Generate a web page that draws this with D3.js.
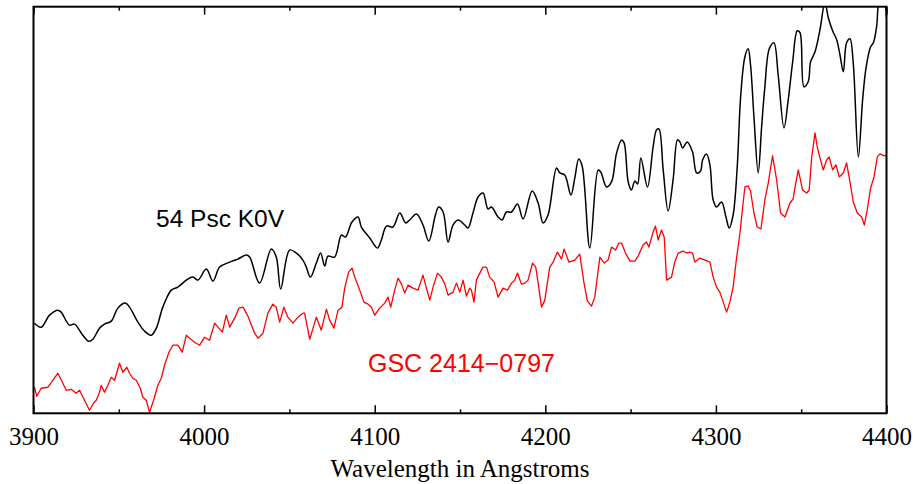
<!DOCTYPE html>
<html>
<head>
<meta charset="utf-8">
<script src="https://cdn.jsdelivr.net/npm/d3@7"></script>
<style>
  body { margin: 0; background: #fff; }
  svg { display: block; }
</style>
</head>
<body>
<div id="chart"></div>
<script>
'use strict';

// wavelength (Angstrom) and relative flux
let kWave = [3900.6, 3904.5, 3909.4, 3914.3, 3916.2, 3921.1, 3924.0, 3928.9, 3932.4, 3934.8,
  3938.7, 3941.6, 3945.6, 3949.4, 3954.0, 3956.3, 3961.2, 3965.1, 3969.0, 3972.0,
  3975.8, 3980.8, 3984.6, 3989.6, 3993.4, 3996.4, 4001.3, 4005.2, 4009.1, 4015.0,
  4019.8, 4024.7, 4026.7, 4032.5, 4039.4, 4042.3, 4044.9, 4050.1, 4054.1, 4057.9,
  4059.9, 4062.3, 4065.8, 4068.3, 4070.7, 4072.6, 4076.5, 4080.5, 4082.8, 4086.7,
  4090.2, 4092.2, 4097.1, 4101.6, 4103.9, 4106.9, 4110.7, 4114.7, 4118.2, 4120.5,
  4124.5, 4128.3, 4131.7, 4135.6, 4137.5, 4140.1, 4143.0, 4145.9, 4148.9, 4152.8,
  4154.7, 4157.6, 4160.6, 4163.5, 4166.4, 4168.4, 4172.3, 4174.7, 4177.2, 4180.2,
  4183.7, 4187.0, 4192.3, 4195.8, 4198.7, 4201.6, 4206.6, 4208.5, 4211.4, 4215.0,
  4217.3, 4219.6, 4221.6, 4226.1, 4231.0, 4232.5, 4235.9, 4238.8, 4241.8, 4244.7,
  4246.2, 4248.6, 4250.5, 4252.5, 4254.1, 4256.0, 4259.9, 4263.2, 4265.2, 4266.6,
  4269.1, 4272.0, 4274.9, 4277.5, 4278.9, 4280.5, 4283.2, 4286.3, 4288.7, 4291.0,
  4292.2, 4294.5, 4296.5, 4298.4, 4300.4, 4303.3, 4305.9, 4307.8, 4310.1, 4312.5,
  4314.5, 4317.0, 4318.9, 4320.3, 4322.3, 4324.8, 4326.8, 4328.7, 4331.3, 4334.0,
  4336.5, 4339.9, 4342.4, 4345.0, 4347.7, 4349.3, 4351.6, 4354.1, 4355.5, 4358.1,
  4361.0, 4363.9, 4365.9, 4368.4, 4370.8, 4372.7, 4374.7, 4376.6, 4378.6, 4380.5,
  4383.5, 4386.0, 4388.0, 4390.7, 4392.3, 4394.2, 4395.8, 4398.1, 4400.0];
let kFlux = [90, 86, 98, 103, 101, 88, 89, 78, 72, 74,
  85, 89, 92, 105, 110, 106, 91, 82, 78, 85,
  106, 123, 126, 133, 136, 133, 144, 132, 146, 151,
  154, 158, 156, 130, 164, 156, 124, 163, 160, 153,
  146, 136, 150, 160, 147, 157, 156, 178, 176, 191,
  196, 186, 175, 165, 173, 187, 186, 200, 190, 193,
  199, 188, 172, 198, 206, 201, 171, 188, 193, 188,
  185, 200, 216, 220, 204, 206, 196, 193, 201, 201,
  209, 194, 222, 210, 190, 198, 245, 240, 238, 218,
  235, 254, 247, 165, 243, 241, 226, 231, 260, 273,
  270, 231, 223, 232, 229, 255, 226, 266, 283, 284,
  243, 202, 233, 273, 271, 265, 271, 261, 240, 242,
  253, 259, 248, 213, 206, 211, 196, 185, 198, 246,
  316, 356, 364, 348, 296, 240, 286, 326, 364, 370,
  338, 285, 313, 351, 382, 380, 326, 331, 351, 361,
  383, 410, 395, 382, 373, 358, 341, 370, 374, 350,
  256, 313, 345, 366, 370, 386, 412, 416, 395];

let gWave = [3900.6, 3901.9, 3904.5, 3908.4, 3911.3, 3914.3, 3917.2, 3919.2, 3922.1, 3925.0,
  3927.0, 3929.9, 3932.8, 3935.2, 3936.8, 3938.7, 3939.7, 3941.6, 3943.6, 3945.6,
  3947.5, 3948.9, 3950.4, 3952.4, 3954.7, 3956.3, 3958.2, 3960.2, 3962.6, 3964.1,
  3966.1, 3968.0, 3970.4, 3972.9, 3974.9, 3976.8, 3979.4, 3981.7, 3984.6, 3987.2,
  3989.6, 3991.5, 3994.4, 3997.4, 4000.3, 4003.2, 4006.2, 4008.1, 4010.7, 4013.0,
  4015.0, 4017.9, 4020.4, 4022.8, 4025.7, 4029.6, 4031.6, 4034.5, 4037.4, 4040.3,
  4042.3, 4044.3, 4046.8, 4049.1, 4052.1, 4055.0, 4057.9, 4058.9, 4061.9, 4065.8,
  4068.7, 4071.7, 4073.6, 4076.1, 4078.5, 4080.8, 4082.4, 4084.7, 4086.7, 4088.3,
  4091.2, 4093.7, 4096.1, 4098.1, 4100.0, 4102.9, 4105.9, 4107.8, 4109.4, 4111.7,
  4113.7, 4115.7, 4117.6, 4119.5, 4122.5, 4125.4, 4128.3, 4130.3, 4132.3, 4134.2,
  4136.8, 4139.1, 4141.1, 4143.0, 4145.9, 4147.9, 4149.9, 4151.8, 4153.8, 4155.7,
  4156.7, 4158.2, 4159.6, 4161.6, 4163.5, 4165.5, 4167.4, 4170.0, 4172.3, 4175.2,
  4177.8, 4180.2, 4182.1, 4183.7, 4186.0, 4188.0, 4189.9, 4192.5, 4194.4, 4195.8,
  4197.8, 4199.7, 4202.6, 4204.6, 4207.1, 4209.5, 4211.0, 4213.8, 4217.3, 4220.2,
  4222.7, 4224.7, 4227.1, 4229.0, 4232.0, 4234.5, 4236.8, 4238.8, 4241.2, 4243.1,
  4244.7, 4247.0, 4249.6, 4252.5, 4254.4, 4257.3, 4259.3, 4260.7, 4263.2, 4264.6,
  4266.2, 4268.1, 4269.7, 4271.1, 4274.0, 4275.9, 4277.9, 4280.8, 4282.8, 4284.8,
  4286.3, 4287.7, 4290.6, 4293.5, 4296.5, 4298.4, 4300.4, 4302.3, 4304.3, 4306.3,
  4308.2, 4310.1, 4312.1, 4314.1, 4315.7, 4317.0, 4318.9, 4320.3, 4322.3, 4324.2,
  4326.4, 4328.7, 4330.7, 4333.2, 4335.6, 4337.9, 4340.5, 4343.4, 4345.3, 4346.3,
  4348.3, 4350.8, 4353.2, 4354.7, 4356.1, 4358.1, 4359.4, 4361.0, 4362.9, 4364.9,
  4366.4, 4368.4, 4370.4, 4372.3, 4374.7, 4376.6, 4378.2, 4380.5, 4382.9, 4385.4,
  4387.0, 4388.7, 4390.7, 4392.7, 4394.6, 4396.2, 4398.5, 4400.0];
let gFlux = [26, 17, 25, 26, 33, 40, 30, 23, 24, 20,
  23, 13, 3, 10, 13, 21, 28, 21, 28, 36,
  33, 41, 50, 41, 46, 40, 35, 33, 25, 16,
  13, 1, 13, 28, 35, 48, 61, 68, 68, 61,
  78, 75, 71, 68, 76, 73, 90, 86, 81, 98,
  86, 95, 105, 106, 97, 80, 75, 80, 100, 109,
  106, 91, 106, 96, 90, 96, 100, 100, 74, 96,
  83, 104, 93, 85, 103, 106, 125, 141, 145, 136,
  123, 111, 109, 106, 98, 105, 110, 116, 106, 123,
  135, 129, 120, 128, 125, 123, 138, 125, 113, 126,
  140, 136, 129, 118, 121, 130, 121, 133, 117, 125,
  123, 111, 133, 140, 146, 146, 136, 131, 116, 125,
  123, 130, 133, 140, 129, 130, 133, 150, 146, 130,
  106, 113, 146, 151, 161, 154, 164, 151, 153, 159,
  130, 112, 107, 116, 156, 150, 153, 166, 163, 170,
  170, 160, 152, 152, 157, 168, 171, 166, 181, 187,
  173, 183, 176, 133, 136, 151, 160, 162, 160, 161,
  160, 151, 155, 153, 151, 136, 126, 121, 111, 101,
  111, 126, 155, 180, 206, 226, 227, 222, 200, 186,
  184, 213, 230, 257, 233, 200, 196, 210, 214, 225,
  243, 223, 220, 223, 255, 280, 266, 255, 243, 253,
  256, 243, 248, 236, 240, 250, 235, 211, 200, 196,
  188, 203, 225, 236, 256, 259, 257, 258];

let majorTicks = [3900, 4000, 4100, 4200, 4300, 4400];
let minorTicks = [3950, 4050, 4150, 4250, 4350];

let W = 913, H = 484;
let pLeft = 33.5, pTop = 6.7, pRight = 886.5, pBottom = 413.3;

let svg = d3.select('#chart').append('svg')
  .attr('width', W)
  .attr('height', H);

let x = d3.scaleLinear().domain([3900, 4400]).range([pLeft, pRight]);
let y = d3.scaleLinear().domain([0, 406]).range([pBottom, pTop]);

svg.append('clipPath').attr('id', 'plot')
  .append('rect')
  .attr('x', pLeft).attr('y', pTop)
  .attr('width', pRight - pLeft).attr('height', pBottom - pTop);

// black spectrum is smooth, red one is jagged
let smooth = d3.line()
  .x(d => x(d[0]))
  .y(d => y(d[1]))
  .curve(d3.curveCatmullRom.alpha(0.5));
let line = d3.line()
  .x(d => x(d[0]))
  .y(d => y(d[1]));

svg.append('path')
  .datum(d3.zip(kWave, kFlux))
  .attr('clip-path', 'url(#plot)')
  .attr('fill', 'none')
  .attr('stroke', '#000')
  .attr('stroke-width', 1.5)
  .attr('stroke-linejoin', 'round')
  .attr('d', smooth);

svg.append('path')
  .datum(d3.zip(gWave, gFlux))
  .attr('clip-path', 'url(#plot)')
  .attr('fill', 'none')
  .attr('stroke', '#ff0000')
  .attr('stroke-width', 1.3)
  .attr('stroke-linejoin', 'round')
  .attr('d', line);

// ticks point inward, on bottom and top
function ticks(axisFn, ypos, vals, len, labels) {
  let g = svg.append('g')
    .attr('transform', `translate(0,${ypos})`)
    .call(axisFn(x).tickValues(vals).tickSize(-len).tickSizeOuter(0)
      .tickFormat(labels ? d3.format('d') : ''));
  g.select('.domain').remove();
  g.selectAll('.tick line').attr('stroke', '#000').attr('stroke-width', 1.5);
  return g;
}

let bx = ticks(d3.axisBottom, pBottom, majorTicks, 8, true);
bx.selectAll('.tick text')
  .attr('font-family', '"Liberation Serif", "Times New Roman", serif')
  .attr('font-size', '25px')
  .attr('fill', '#000')
  .attr('y', 32)
  .attr('dy', 0);
ticks(d3.axisBottom, pBottom, minorTicks, 4, false);
ticks(d3.axisTop, pTop, majorTicks, 8, false);
ticks(d3.axisTop, pTop, minorTicks, 4, false);

svg.append('rect')
  .attr('x', pLeft).attr('y', pTop)
  .attr('width', pRight - pLeft).attr('height', pBottom - pTop)
  .attr('fill', 'none')
  .attr('stroke', '#000')
  .attr('stroke-width', 2);

svg.append('text')
  .attr('x', (pLeft + pRight) / 2)
  .attr('y', 477)
  .attr('text-anchor', 'middle')
  .attr('font-family', '"Liberation Serif", "Times New Roman", serif')
  .attr('font-size', '25px')
  .text('Wavelength in Angstroms');

svg.append('text')
  .attr('x', 156)
  .attr('y', 227)
  .attr('font-family', '"Liberation Sans", Arial, sans-serif')
  .attr('font-size', '24.5px')
  .attr('fill', '#000')
  .text('54 Psc K0V');

svg.append('text')
  .attr('x', 368)
  .attr('y', 372)
  .attr('font-family', '"Liberation Sans", Arial, sans-serif')
  .attr('font-size', '25px')
  .attr('fill', '#ff0000')
  .text('GSC 2414\u22120797');
</script>
</body>
</html>
